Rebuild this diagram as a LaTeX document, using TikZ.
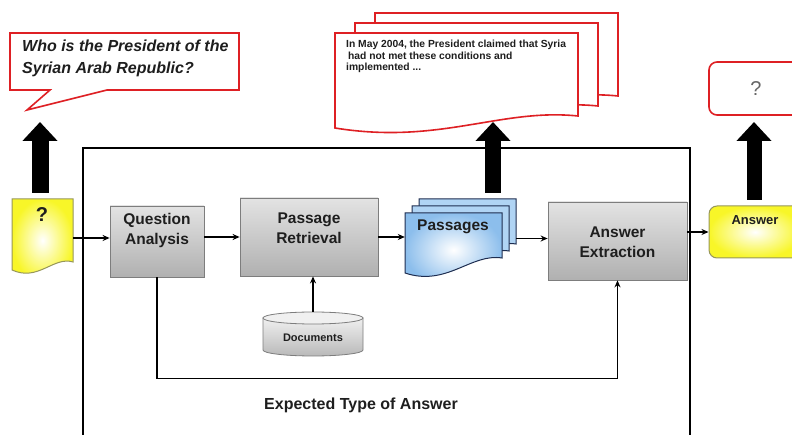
\documentclass[tikz,border=0pt]{standalone}
\usepackage{fontspec}
\setmainfont{Liberation Sans}
\usetikzlibrary{arrows.meta}
\definecolor{qred}{RGB}{222,32,36}
\definecolor{qyel}{RGB}{248,246,40}
\definecolor{qyelb}{RGB}{150,150,90}
\definecolor{qblue}{RGB}{140,190,236}
\definecolor{qblueback}{RGB}{176,212,244}
\definecolor{qblueb}{RGB}{30,45,80}
\definecolor{qgrayb}{RGB}{125,125,125}
\definecolor{qtext}{RGB}{30,30,30}
\newcommand\docpath[8]{%
  \path[#1] (#2,#3) -- ({#2+#4},#3) -- ({#2+#4},{#3+#6})
    .. controls ({#2+0.68*#4},{#3+#6-#7}) and ({#2+0.43*#4},{#3+#5+#8}) .. (#2,{#3+#5}) -- cycle;}
\begin{document}
\begin{tikzpicture}[x=1pt,y=-1pt,
  graybox/.style={draw=qgrayb, line width=0.8pt, top color=gray!22, bottom color=gray!62, inner sep=0pt},
  anchorbox/.style={inner sep=0pt, draw=none},
  lbl/.style={font=\bfseries\fontsize{15.5}{20}\selectfont, text=qtext, align=center, inner sep=0pt},
  conn/.style={-{Stealth[length=7pt,width=6pt]}, line width=1.3pt},
  bigarrow/.style={line width=#1, -{Triangle[length=19pt,width=34pt]}},
  reddoc/.style={draw=qred, line width=1.6pt, fill=white},
  bluedoc/.style={draw=qblueb, line width=1pt},
  yelfill/.style={inner color=white, outer color=qyel}
]
\useasboundingbox (0,0) rectangle (792,435);
\clip (0,0) rectangle (792,435);

% big frame
\draw[line width=1.8pt] (83,440) -- (83,148) -- (690,148) -- (690,440);

% speech bubble
\path[draw=qred, line width=1.6pt, fill=white] (10,33) -- (239,33) -- (239,90) -- (107,90) -- (27,110) -- (50,90) -- (10,90) -- cycle;
\node[anchor=north west, align=left, inner sep=0pt, text=qtext,
      font=\bfseries\itshape\fontsize{16}{22}\selectfont] (question) at (22,40)
      {Who is the President of the\\Syrian Arab Republic?};

% stacked red documents
\docpath{reddoc}{375}{13}{243}{95}{83}{8}{17}
\docpath{reddoc}{355}{23}{243}{95}{83}{8}{17}
\docpath{reddoc}{335}{33}{243}{95}{83}{8}{17}
\node[anchor=north west, align=left, inner sep=0pt, text=qtext,
      font=\bfseries\fontsize{10.3}{11.5}\selectfont] (passtext) at (346,40)
      {In May 2004, the President claimed that Syria\\\hspace{2pt}had not met these conditions and\\implemented ...};

% red answer box
\node[draw=qred, line width=1.6pt, fill=white, rounded corners=8pt, minimum width=92pt, minimum height=53pt, inner sep=0pt] (ansq) at (755,88.5) {};
\node[font=\fontsize{20}{22}\selectfont, text=black!60, inner sep=0pt] (ansqmark) at (756,89) {?};

% yellow question document
\docpath{draw=qyelb, line width=1pt, yelfill}{12}{199}{61}{71}{63}{6}{12}
\node[anchorbox, minimum width=61pt, minimum height=78pt] (qdoc) at (42.5,238) {};
\node[font=\bfseries\fontsize{20}{22}\selectfont, text=qtext, inner sep=0pt] (qmark) at (42,215) {?};

% gray process boxes
\node[graybox, minimum width=94pt, minimum height=71pt] (qa) at (157,241.5) {};
\node[lbl] (qalbl) at (157,230) {Question\\Analysis};
\node[graybox, minimum width=138pt, minimum height=78pt] (pr) at (309,237) {};
\node[lbl] (prlbl) at (309,228) {Passage\\Retrieval};
\node[graybox, minimum width=139pt, minimum height=78pt] (ae) at (617.5,241) {};
\node[lbl] (aelbl) at (617.5,242) {Answer\\Extraction};

% passages stack
\docpath{bluedoc, fill=qblueback}{419}{199}{97}{60}{45}{5}{14}
\docpath{bluedoc, fill=qblueback}{412}{206}{97}{60}{45}{5}{14}
\docpath{bluedoc, inner color=white, outer color=qblue}{405}{213}{97}{60}{45}{5}{14}
\node[anchorbox, minimum width=111pt, minimum height=79pt] (pass) at (460.5,238.5) {};
\node[lbl] (passlbl) at (453,227) {Passages};

% documents cylinder
\path[draw=qgrayb, line width=0.8pt, top color=gray!12, bottom color=gray!55]
  (263,318) -- (263,350) arc[start angle=180, end angle=0, x radius=50, y radius=6] -- (363,318) -- cycle;
\path[draw=qgrayb, line width=0.8pt, fill=gray!12] (313,318) ellipse[x radius=50, y radius=6];
\node[anchorbox, minimum width=100pt, minimum height=44pt] (docs) at (313,334) {};
\node[font=\bfseries\fontsize{11}{13}\selectfont, text=qtext, inner sep=0pt] (docslbl) at (313,338) {Documents};

% yellow answer box
\node[draw=qyelb, line width=1pt, yelfill, rounded corners=8pt, minimum width=92pt, minimum height=52pt, inner sep=0pt] (ans) at (755,232) {};
\node[font=\bfseries\fontsize{13}{15}\selectfont, text=qtext, inner sep=0pt] (anslbl) at (755,220) {Answer};

% connectors
\draw[conn] (qdoc.east) -- (qdoc.east -| qa.west);
\draw[conn] (qa.east |- pr.west) -- (pr.west);
\draw[conn] (pr.east) -- (pr.east -| pass.west);
\draw[conn] (pass.east) -- (pass.east -| ae.west);
\draw[conn] (ae.east |- ans.west) -- (ans.west);
\draw[conn] (docs.north) -- (docs.north |- pr.south);
\draw[conn] (qa.south) -- ++(0,101) -| (ae.south);

% big black arrows
\draw[bigarrow=17pt] (40,193) -- (40,122);
\draw[bigarrow=16pt] (493,193) -- (493,122);
\draw[bigarrow=15pt] (754,200) -- (754,122);

\node[font=\bfseries\fontsize{16}{18}\selectfont, text=qtext, inner sep=0pt] (exp) at (361,405) {Expected Type of Answer};
\end{tikzpicture}
\end{document}
